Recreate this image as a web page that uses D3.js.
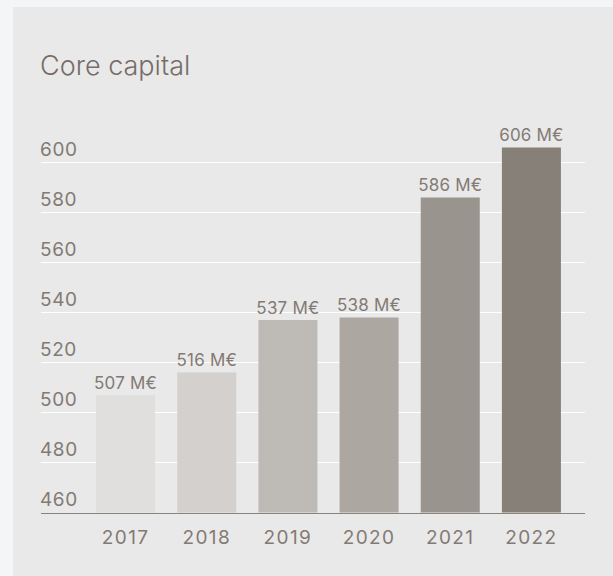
<!DOCTYPE html>
<html>
<head>
<meta charset="utf-8">
<script src="https://cdn.jsdelivr.net/npm/d3@7"></script>
<style>
  html, body { margin: 0; padding: 0; background: #f4f5f7; }
  svg { display: block; }
</style>
</head>
<body>
<svg id="chart" width="613" height="576"></svg>
<script>
// Core capital, millions of euros, by year
const years = ["2017", "2018", "2019", "2020", "2021", "2022"];
const coreCapital = [507, 516, 537, 538, 586, 606];
const valueLabels = ["507 M€", "516 M€", "537 M€", "538 M€", "586 M€", "606 M€"];
const yTicks = [460, 480, 500, 520, 540, 560, 580, 600];
const barColors = ["#e0dfdd", "#d3d0cd", "#bebab5", "#aca7a1", "#99948e", "#878079"];

const svg = d3.select("#chart");
const font = "Inter, 'Liberation Sans', sans-serif";
const textColor = "#837a74";

// card
svg.append("rect")
  .attr("x", 13).attr("y", 7)
  .attr("width", 600).attr("height", 569)
  .attr("fill", "#e9e9e9");

svg.append("text")
  .attr("x", 40).attr("y", 75)
  .attr("font-family", font)
  .attr("font-weight", 300)
  .attr("font-size", 27)
  .attr("fill", "#766d68")
  .text("Core capital");

const left = 41, right = 585;
const y = d3.scaleLinear().domain([460, 600]).range([512.5, 162.5]);
const x = d3.scaleBand().domain(years).range([85, 572]).paddingInner(0.273).paddingOuter(0.1365);

// gridlines and tick labels
const grid = svg.append("g");
grid.selectAll("line")
  .data(yTicks.slice(1))
  .join("line")
  .attr("x1", left).attr("x2", right)
  .attr("y1", d => Math.round(y(d)) - 0.5)
  .attr("y2", d => Math.round(y(d)) - 0.5)
  .attr("stroke", "#ffffff")
  .attr("stroke-width", 1);

grid.selectAll("text")
  .data(yTicks)
  .join("text")
  .attr("x", 40)
  .attr("y", d => y(d) - 7)
  .attr("font-family", font)
  .attr("font-size", 19)
  .attr("letter-spacing", 0.6)
  .attr("fill", textColor)
  .text(d => d);

// bars
svg.append("g").selectAll("rect")
  .data(coreCapital)
  .join("rect")
  .attr("x", (d, i) => x(years[i]))
  .attr("width", x.bandwidth())
  .attr("y", d => y(d))
  .attr("height", d => y(460) - y(d))
  .attr("fill", (d, i) => barColors[i]);

// value labels
svg.append("g").selectAll("text")
  .data(coreCapital)
  .join("text")
  .attr("x", (d, i) => x(years[i]) + x.bandwidth() / 2)
  .attr("y", d => y(d) - 6.5)
  .attr("text-anchor", "middle")
  .attr("font-family", font)
  .attr("font-size", 17)
  .attr("letter-spacing", 0.2)
  .attr("fill", textColor)
  .text((d, i) => valueLabels[i]);

// baseline axis with year labels
const xAxis = d3.axisBottom(x).tickSize(0).tickPadding(0);
const axisG = svg.append("g")
  .attr("transform", `translate(0,${Math.round(y(460)) + 0.5})`)
  .call(xAxis);
axisG.select(".domain").remove();
axisG.append("line")
  .attr("x1", left).attr("x2", right)
  .attr("stroke", "#8a827b").attr("stroke-width", 1.2);
axisG.selectAll(".tick text")
  .attr("dy", null)
  .attr("y", 30)
  .attr("font-family", font)
  .attr("font-size", 19)
  .attr("letter-spacing", 1.4)
  .attr("fill", textColor);
</script>
</body>
</html>
